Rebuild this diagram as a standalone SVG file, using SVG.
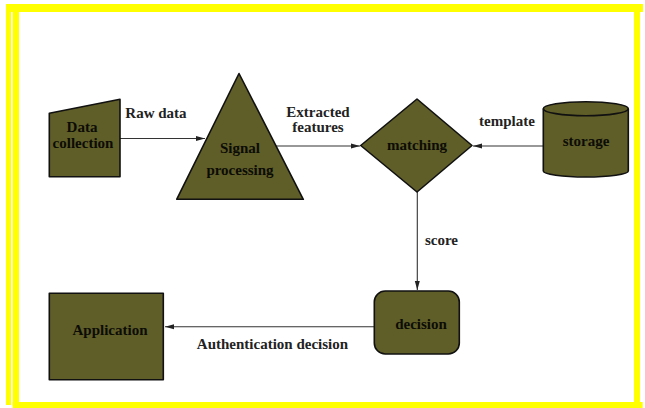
<svg xmlns="http://www.w3.org/2000/svg" width="645" height="408" viewBox="0 0 645 408">
<style>
.node{fill:#5f5d28;stroke:#111;stroke-width:1.6;stroke-linejoin:round}
.nt{font-family:"Liberation Serif","DejaVu Serif",serif;font-weight:bold;font-size:15px;fill:#0c0c06;text-anchor:middle}
.lbl{font-family:"Liberation Serif","DejaVu Serif",serif;font-weight:bold;font-size:15px;fill:#222;text-anchor:middle}
.conn{stroke:#333;stroke-width:1.1;fill:none;marker-end:url(#ah)}
.frame{fill:#ffff00}
</style>
<defs>
<marker id="ah" markerWidth="10" markerHeight="6" refX="9" refY="3" orient="auto" markerUnits="userSpaceOnUse">
<path d="M0,0.5 L9,3 L0,5.5 Z" fill="#222"/>
</marker>
</defs>
<rect width="645" height="408" fill="#fff"/>
<g id="frame">
<rect class="frame" x="6" y="4" width="5" height="401"/>
<rect class="frame" x="12.7" y="9" width="6.3" height="397"/>
<rect class="frame" x="6" y="4" width="637" height="8"/>
<rect class="frame" x="634" y="4" width="6" height="402"/>
<rect class="frame" x="12.7" y="402" width="630" height="6"/>
</g>
<g id="connectors">
<line class="conn" x1="120" y1="138.5" x2="205" y2="138.5"/>
<line class="conn" x1="276" y1="146" x2="360" y2="146"/>
<line class="conn" x1="543" y1="146" x2="473" y2="146"/>
<line class="conn" x1="417.3" y1="192" x2="417.3" y2="290"/>
<line class="conn" x1="374" y1="326.7" x2="165" y2="326.7"/>
<text class="lbl" x="156" y="118">Raw data</text>
<text class="lbl" x="318" y="117">Extracted</text>
<text class="lbl" x="318" y="132">features</text>
<text class="lbl" x="507" y="126">template</text>
<text class="lbl" x="441.5" y="245">score</text>
<text class="lbl" x="272.5" y="349">Authentication decision</text>
</g>
<g id="data-collection">
<polygon class="node" points="49.3,113.3 120,99.3 120,176.7 49.3,176.7"/>
<text class="nt" x="82" y="132">Data</text>
<text class="nt" x="83" y="148">collection</text>
</g>
<g id="signal-processing">
<polygon class="node" points="239,73.5 303.3,199.3 176.7,199.3"/>
<text class="nt" x="240" y="153">Signal</text>
<text class="nt" x="240" y="175">processing</text>
</g>
<g id="matching">
<polygon class="node" points="360.7,145.5 417,99 472,145.5 417,192"/>
<text class="nt" x="417" y="150">matching</text>
</g>
<g id="storage">
<path class="node" d="M543.3,108.7 L543.3,171 A42.5,6 0 0 0 628.3,171 L628.3,108.7 A42.5,7 0 0 0 543.3,108.7 Z"/>
<path d="M543.3,108.7 A42.5,7 0 0 0 628.3,108.7" fill="none" stroke="#111" stroke-width="1.6"/>
<text class="nt" x="586" y="146">storage</text>
</g>
<g id="decision">
<rect class="node" x="374.3" y="291" width="85" height="63" rx="11"/>
<text class="nt" x="421" y="329">decision</text>
</g>
<g id="application">
<rect class="node" x="49.3" y="293.3" width="114" height="86.5"/>
<text class="nt" x="110" y="335">Application</text>
</g>
</svg>
